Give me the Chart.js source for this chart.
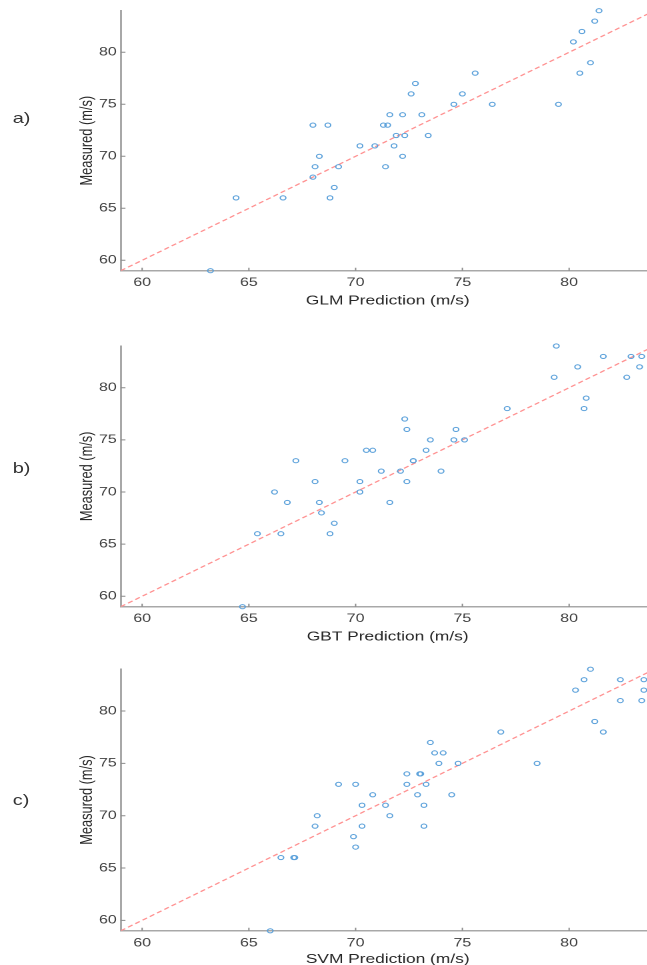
<!DOCTYPE html>
<html>
<head>
<meta charset="utf-8">
<title>Measured vs predicted wind speed</title>
<script src="https://cdn.jsdelivr.net/npm/chart.js@4.4.1/dist/chart.umd.min.js"></script>
<style>
    html, body { margin: 0; padding: 0; background: #fff; overflow: hidden; width: 647px; height: 965px; }
    /* the source figure is stretched sideways, so the whole drawing is too */
    #wrap { position: absolute; left: 0; top: 0; width: 494px; height: 965px; transform: scaleX(1.3333); transform-origin: 0 0; }
    #wrap canvas { position: absolute; left: 0; }
    .panel-label { position: absolute; left: 9.5px; font: 15px 'Liberation Sans', Arial, sans-serif; color: #333; line-height: 15px; }
</style>
</head>
<body>
<div id="wrap">
    <div class="panel-label" style="top:110px">a)</div>
    <div class="panel-label" style="top:460px">b)</div>
    <div class="panel-label" style="top:792px">c)</div>
    <canvas id="chartGLM"></canvas>
    <canvas id="chartGBT"></canvas>
    <canvas id="chartSVM"></canvas>
</div>
<script>
// axis ticks and the 1:1 reference line
const xTicks = [60, 65, 70, 75, 80];
const yTicks = [60, 65, 70, 75, 80];
const axisRange = [59, 84];

// a) GLM
const glmPred = [63.2, 64.4, 66.6, 68.0, 68.7, 68.3, 68.1, 69.2, 68.0, 69.0, 68.8, 70.2, 70.9, 71.3, 71.5, 71.6, 72.2, 73.1, 71.9, 72.3,
                 73.4, 71.8, 72.2, 71.4, 72.6, 72.8, 74.6, 75.0, 75.6, 76.4, 79.5, 80.2, 80.6, 81.2, 81.4, 80.5, 81.0];
const glmMeas = [59, 66, 66, 73, 73, 70, 69, 69, 68, 67, 66, 71, 71, 73, 73, 74, 74, 74, 72, 72,
                 72, 71, 70, 69, 76, 77, 75, 76, 78, 75, 75, 81, 82, 83, 84, 78, 79];

// b) GBT
const gbtPred = [64.7, 65.4, 66.5, 66.2, 66.8, 67.2, 68.1, 68.3, 68.4, 69.0, 68.8, 69.5, 70.5, 70.8, 71.2, 70.2, 70.2, 71.6, 72.1, 72.4,
                 72.3, 72.4, 72.7, 72.7, 73.3, 73.5, 74.0, 74.6, 74.7, 75.1, 77.1, 79.3, 79.4, 80.4, 80.7, 80.8, 81.6, 82.7, 82.9, 83.3, 83.4];
const gbtMeas = [59, 66, 66, 70, 69, 73, 71, 69, 68, 67, 66, 73, 74, 74, 72, 71, 70, 69, 72, 71,
                 77, 76, 73, 73, 74, 75, 72, 75, 76, 75, 78, 81, 84, 82, 78, 79, 83, 81, 83, 82, 83];

// c) SVM
const svmPred = [66.0, 66.5, 67.1, 67.15, 68.1, 68.2, 69.2, 70.0, 70.8, 70.3, 70.3, 69.9, 70.0, 71.4, 71.6, 72.4, 72.4, 73.0, 73.05, 72.9,
                 73.3, 73.2, 73.2, 73.5, 73.7, 74.1, 73.9, 74.8, 74.5, 76.8, 78.5, 80.3, 80.7, 81.0, 81.2, 81.6, 82.4, 82.4, 83.5, 83.5, 83.4];
const svmMeas = [59, 66, 66, 66, 69, 70, 73, 73, 72, 71, 69, 68, 67, 71, 70, 74, 73, 74, 74, 72,
                 73, 71, 69, 77, 76, 76, 75, 75, 72, 78, 75, 82, 83, 84, 79, 78, 83, 81, 83, 82, 81];

const xTitles = ['GLM Prediction (m/s)', 'GBT Prediction (m/s)', 'SVM Prediction (m/s)'];
const yTitle = 'Measured (m/s)';

document.addEventListener('DOMContentLoaded', function() {
    const FONT = "'Liberation Sans', Arial, sans-serif";
    const W = 494;           // un-stretched canvas width
    const plotLeft = 90.6;
    const plotRight = 493.2;

    // vertical placement of each panel (page px)
    const panels = [
        { id: 'chartGLM', top: 0,   plotTop: 10.7,  plotBottom: 270.7, titleGap: 30,   pred: glmPred, meas: glmMeas, title: xTitles[0] },
        { id: 'chartGBT', top: 335, plotTop: 346.0, plotBottom: 606.7, titleGap: 30,   pred: gbtPred, meas: gbtMeas, title: xTitles[1] },
        { id: 'chartSVM', top: 658, plotTop: 669.2, plotBottom: 930.8, titleGap: 28.5, pred: svmPred, meas: svmMeas, title: xTitles[2] }
    ];

    // MATLAB style ticks pointing into the plot
    const innerTicks = {
        id: 'innerTicks',
        beforeDatasetsDraw(chart) {
            const { ctx, chartArea, scales } = chart;
            ctx.save();
            ctx.strokeStyle = '#8a8a8a';
            ctx.lineWidth = 1;
            ctx.beginPath();
            scales.x.ticks.forEach(t => {
                const px = scales.x.getPixelForValue(t.value);
                ctx.moveTo(px, chartArea.bottom);
                ctx.lineTo(px, chartArea.bottom - 3);
            });
            scales.y.ticks.forEach(t => {
                const py = scales.y.getPixelForValue(t.value);
                ctx.moveTo(chartArea.left, py);
                ctx.lineTo(chartArea.left + 3.5, py);
            });
            ctx.stroke();
            ctx.restore();
        }
    };

    panels.forEach(function(p) {
        const canvas = document.getElementById(p.id);
        const padTop = p.plotTop - p.top;
        const plotH = p.plotBottom - p.plotTop;
        const H = Math.ceil(padTop + plotH + 38.5);
        const axisH = H - padTop - plotH;
        const titleLine = 13 * 1.2;
        const titlePadBottom = (H - titleLine / 2) - (p.plotBottom - p.top + p.titleGap);

        canvas.width = W;
        canvas.height = H;
        canvas.style.top = p.top + 'px';

        new Chart(canvas, {
            type: 'scatter',
            data: {
                datasets: [{
                    type: 'scatter',
                    data: p.pred.map((x, i) => ({ x: x, y: p.meas[i] })),
                    pointStyle: 'circle',
                    pointRadius: 2.1,
                    pointHoverRadius: 2.1,
                    borderColor: '#5aa0da',
                    backgroundColor: 'rgba(0,0,0,0)',
                    borderWidth: 1,
                    clip: false
                }, {
                    type: 'line',
                    data: axisRange.map(v => ({ x: v, y: v })),
                    borderColor: '#ff9090',
                    borderWidth: 1.2,
                    borderDash: [4, 2.5],
                    pointRadius: 0,
                    fill: false
                }]
            },
            options: {
                responsive: false,
                animation: false,
                devicePixelRatio: 2,
                layout: { padding: { top: padTop, right: W - plotRight, bottom: 0, left: 0 } },
                plugins: { legend: { display: false }, tooltip: { enabled: false } },
                scales: {
                    x: {
                        type: 'linear',
                        min: axisRange[0],
                        max: axisRange[1],
                        afterBuildTicks: s => { s.ticks = xTicks.map(v => ({ value: v })); },
                        afterFit: s => { s.height = axisH; },
                        grid: { display: false, drawTicks: false },
                        border: { display: true, color: '#a8a8a8', width: 1.5 },
                        ticks: { font: { family: FONT, size: 12 }, color: '#404040', padding: 5, maxRotation: 0, autoSkip: false },
                        title: { display: true, text: p.title, color: '#262626', font: { family: FONT, size: 13 },
                                 padding: { top: 0, bottom: titlePadBottom } }
                    },
                    y: {
                        type: 'linear',
                        min: axisRange[0],
                        max: axisRange[1],
                        afterBuildTicks: s => { s.ticks = yTicks.map(v => ({ value: v })); },
                        afterFit: s => { s.width = plotLeft; },
                        grid: { display: false, drawTicks: false },
                        border: { display: true, color: '#a8a8a8', width: 1.5 },
                        ticks: { font: { family: FONT, size: 12 }, color: '#404040', padding: 3, autoSkip: false },
                        title: { display: true, text: yTitle, color: '#262626', font: { family: FONT, size: 12.8 },
                                 padding: { top: 57.6, bottom: 0 } }
                    }
                }
            },
            plugins: [innerTicks]
        });
    });
});
</script>
</body>
</html>
